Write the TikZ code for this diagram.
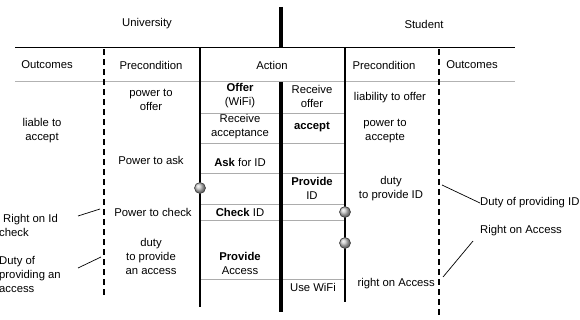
\documentclass[tikz,border=0pt]{standalone}
\usepackage{fontspec}
\setmainfont{Liberation Sans}
\begin{document}
\begin{tikzpicture}[x=1pt,y=-1pt,
  font=\fontsize{11.3}{14}\selectfont,
  txt/.style={align=center, inner sep=0pt},
  rule/.style={line width=1pt, black},
  headrule/.style={line width=1pt, gray!60},
  cellrule/.style={line width=0.8pt, gray!65},
  spine/.style={line width=3.5pt, black},
  divider/.style={line width=1.8pt, dash pattern=on 6pt off 4pt},
  edge/.style={line width=1.2pt, black},
  pointer/.style={line width=0.7pt, black},
  knob/.style={ball color=gray!45, draw=gray!50!black, line width=0.6pt}]
\useasboundingbox (0,0) rectangle (580,320);

% party titles
\node[txt] (uni) at (147,24) {University};
\node[txt] (stu) at (424,24) {Student};

% frame rules
\coordinate (tl) at (15,48);  \coordinate (tr) at (515,48);
\coordinate (hl) at (15,82);  \coordinate (hr) at (515,82);
\draw[rule] (tl) -- (tr);
\draw[headrule] (hl) -- (hr);

% column headers
\node[txt] (h1) at (47,65) {Outcomes};
\node[txt] (h2) at (151,65) {Precondition};
\node[txt] (h3) at (272,65) {Action};
\node[txt] (h4) at (384,65) {Precondition};
\node[txt] (h5) at (472,65) {Outcomes};

% action column borders and row rules
\coordinate (al1) at (200,48); \coordinate (al2) at (200,307);
\coordinate (ar1) at (345,48); \coordinate (ar2) at (345,302);
\foreach \y in {113,143,173,204,220,279}
  \draw[cellrule] (200,\y) -- (345,\y);
\draw[edge] (al1) -- (al2);
\draw[edge, line width=1.6pt] (ar1) -- (ar2);

% central spine
\coordinate (s1) at (281,7);  \coordinate (s2) at (281,48);
\coordinate (s3) at (281,82); \coordinate (s4) at (281,312);
\draw[spine] (s1) -- (s2);
\draw[spine] (s3) -- (s4);

% dashed dividers
\coordinate (d1) at (104,49);  \coordinate (d2) at (104,297);
\coordinate (d3) at (439,49);  \coordinate (d4) at (439,315);
\draw[divider] (d1) -- (d2);
\draw[divider] (d3) -- (d4);

% university actions
\node[txt] (a1) at (240,96) {\textbf{Offer}\\(WiFi)};
\node[txt] (a2) at (240,127) {Receive\\acceptance};
\node[txt] (a3) at (240,162) {\textbf{Ask} for ID};
\node[txt] (a4) at (240,212) {\textbf{Check} ID};
\node[txt] (a5) at (240,263) {\textbf{Provide}\\Access};

% student actions
\node[txt] (b1) at (312,96) {Receive\\offer};
\node[txt] (b2) at (312,127) {\textbf{accept}};
\node[txt] (b3) at (312,188) {\textbf{Provide}\\ID};
\node[txt] (b4) at (313,287) {Use WiFi};

% university preconditions
\node[txt] (p1) at (151,100) {power to\\offer};
\node[txt] (p2) at (151,160) {Power to ask};
\node[txt] (p3) at (153,212) {Power to check};
\node[txt] (p4) at (151,256) {duty\\to provide\\an access};

% student preconditions
\node[txt] (q1) at (390,98) {liability to offer};
\node[txt] (q2) at (385,131) {power to\\accepte};
\node[txt] (q3) at (391,189) {duty\\to provide ID};
\node[txt, anchor=east] (q4) at (435,284) {right on Access};

% university outcomes
\node[txt] (o1) at (42,131) {liable to\\accept};
\node[txt, align=left, anchor=west] (o2) at (-1,225) {\hspace{4pt}Right on Id\\check};
\node[txt, align=left, anchor=west] (o3) at (-1,274) {Duty of\\providing an\\access};

% student outcomes
\node[txt, anchor=west] (r1) at (480,203) {Duty of providing ID};
\node[txt, anchor=west] (r2) at (480,231) {Right on Access};

% pointers from outcomes to the dividers
\coordinate (c1) at (78,216);  \coordinate (c2) at (100,209);
\coordinate (c3) at (78,268);  \coordinate (c4) at (101,257);
\coordinate (c5) at (442,185); \coordinate (c6) at (443,277);
\coordinate (c7) at (473,241);
\draw[pointer] (c1) -- (c2);
\draw[pointer] (c3) -- (c4);
\draw[pointer] (c5) -- (r1.west);
\draw[pointer] (c6) -- (c7);

% junction knobs
\shade[knob] (200,188) circle (5.5pt);
\shade[knob] (345,212) circle (5.5pt);
\shade[knob] (345,243) circle (5.5pt);
\end{tikzpicture}
\end{document}
